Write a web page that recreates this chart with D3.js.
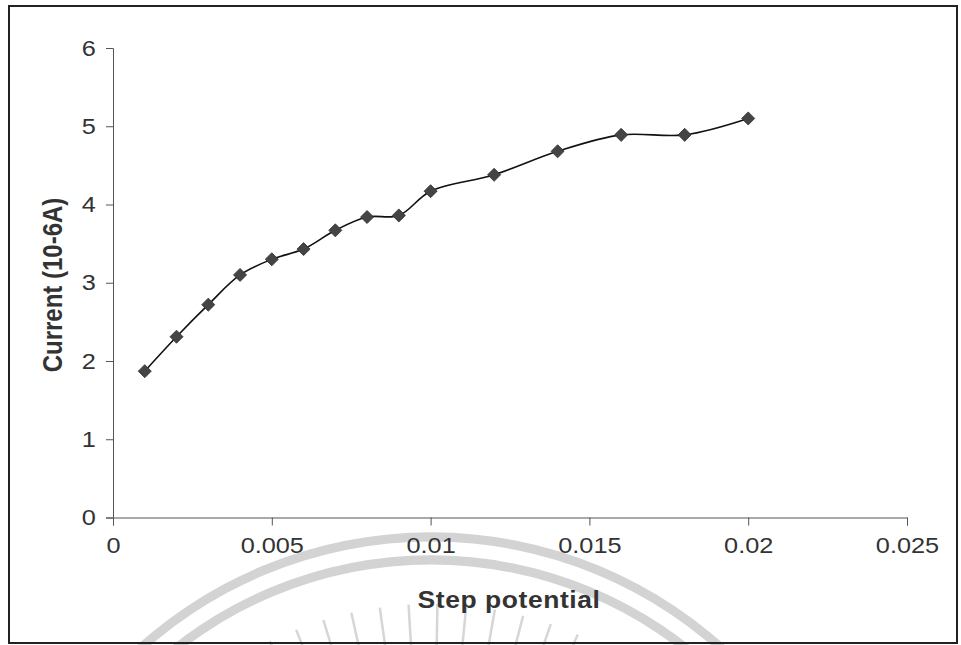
<!DOCTYPE html>
<html>
<head>
<meta charset="utf-8">
<script src="https://cdn.jsdelivr.net/npm/d3@7"></script>
<style>
  body { margin: 0; background: #fff; }
  svg { display: block; }
</style>
</head>
<body>
<svg id="chart" width="961" height="645"></svg>
<script>
// step potential (V) and measured current (10-6 A)
const stepPotential = [0.001, 0.002, 0.003, 0.004, 0.005, 0.006, 0.007, 0.008, 0.009, 0.01, 0.012, 0.014, 0.016, 0.018, 0.02];
const current = [1.87, 2.31, 2.72, 3.10, 3.30, 3.43, 3.67, 3.84, 3.86, 4.17, 4.38, 4.68, 4.89, 4.89, 5.10];
const xTicks = [0, 0.005, 0.01, 0.015, 0.02, 0.025];
const yTicks = [0, 1, 2, 3, 4, 5, 6];

const svg = d3.select("#chart");
const stretch = "scale(1.15,1)"; // the scanned figure is a bit wider than tall
const font = "Liberation Sans, Arial, sans-serif";

// faint watermark from the scanned page
const wm = svg.append("g").attr("transform", "translate(431,972)");
const wmArc = d3.arc().startAngle(-Math.PI / 2).endAngle(Math.PI / 2);
[435, 412].forEach(r => {
  wm.append("path")
    .attr("d", wmArc({ innerRadius: r - 4.5, outerRadius: r + 4.5 }))
    .attr("fill", "#d3d3d3");
});
d3.range(-26, 25, 4.5).forEach(a => {
  const t = a * Math.PI / 180;
  wm.append("line")
    .attr("x1", 326 * Math.sin(t)).attr("y1", -326 * Math.cos(t))
    .attr("x2", 368 * Math.sin(t)).attr("y2", -368 * Math.cos(t))
    .attr("stroke", "#d6d6d6")
    .attr("stroke-width", 2.5);
});

// outer frame
svg.append("rect")
  .attr("x", 9).attr("y", 6)
  .attr("width", 948).attr("height", 637)
  .attr("fill", "none")
  .attr("stroke", "#222")
  .attr("stroke-width", 2);

const margin = { top: 48, right: 54, bottom: 127.5, left: 113 };
const width = 961 - margin.left - margin.right;
const height = 645 - margin.top - margin.bottom;

const x = d3.scaleLinear().domain([0, 0.025]).range([0, width]);
const y = d3.scaleLinear().domain([0, 6]).range([height, 0]);

const g = svg.append("g").attr("transform", `translate(${margin.left},${margin.top})`);

const xAxis = g.append("g")
  .attr("transform", `translate(0,${height})`)
  .call(d3.axisBottom(x).tickValues(xTicks).tickSize(8).tickPadding(12).tickFormat(d => String(+d.toFixed(3))));

const yAxis = g.append("g")
  .call(d3.axisLeft(y).tickValues(yTicks).tickSize(7).tickPadding(8).tickFormat(d => String(d)));

[xAxis, yAxis].forEach(ax => {
  ax.select(".domain").attr("stroke", "#555");
  ax.selectAll(".tick line").attr("stroke", "#555");
  ax.selectAll(".tick text")
    .attr("font-family", font)
    .attr("font-size", 22)
    .attr("fill", "#333")
    .attr("transform", stretch);
});

// smoothed line like the spreadsheet one
const line = d3.line()
  .x((d, i) => x(stepPotential[i]))
  .y(d => y(d))
  .curve(d3.curveCatmullRom.alpha(0.5));

g.append("path")
  .datum(current)
  .attr("d", line)
  .attr("fill", "none")
  .attr("stroke", "#111")
  .attr("stroke-width", 1.6);

g.selectAll(".marker")
  .data(current)
  .join("path")
  .attr("class", "marker")
  .attr("d", d3.symbol().type(d3.symbolSquare).size(85))
  .attr("transform", (d, i) => `translate(${x(stepPotential[i])},${y(d)}) rotate(45)`)
  .attr("fill", "#444")
  .attr("stroke", "#333")
  .attr("stroke-width", 0.8);

// axis titles
svg.append("text")
  .attr("transform", `translate(509,608) ${stretch}`)
  .attr("text-anchor", "middle")
  .attr("font-family", font)
  .attr("font-weight", "bold")
  .attr("font-size", 23)
  .attr("letter-spacing", 0.5)
  .attr("fill", "#333")
  .text("Step potential");

svg.append("text")
  .attr("transform", `translate(62,285) ${stretch} rotate(-90)`)
  .attr("text-anchor", "middle")
  .attr("font-family", font)
  .attr("font-weight", "bold")
  .attr("font-size", 24)
  .attr("fill", "#333")
  .text("Current (10-6A)");
</script>
</body>
</html>
